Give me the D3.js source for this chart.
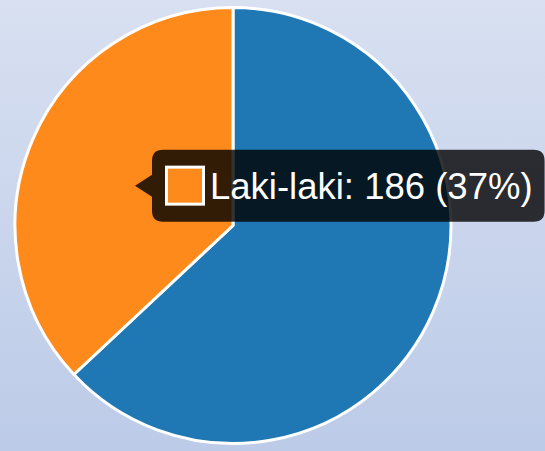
<!DOCTYPE html>
<html>
<head>
<meta charset="utf-8">
<script src="https://cdn.jsdelivr.net/npm/d3@7"></script>
<style>
  html, body { margin: 0; padding: 0; }
  body { width: 545px; height: 451px; overflow: hidden; }
</style>
</head>
<body>
<svg id="chart" width="545" height="451"></svg>
<script>
const labels = ['Perempuan', 'Laki-laki'];
const values = [317, 186];
const colors = ['#1f77b4', '#ff8a1c'];
const activeIndex = 1;

const svg = d3.select('#chart');
const width = +svg.attr('width');
const height = +svg.attr('height');

// background gradient
const defs = svg.append('defs');
const grad = defs.append('linearGradient')
  .attr('id', 'bg')
  .attr('x1', 0).attr('y1', 0).attr('x2', 0).attr('y2', 1);
grad.append('stop').attr('offset', '0%').attr('stop-color', '#d8e0f1');
grad.append('stop').attr('offset', '100%').attr('stop-color', '#bccbe8');
svg.append('rect').attr('width', width).attr('height', height).attr('fill', 'url(#bg)');

const cx = 233, cy = 225.5, radius = 218;

const pie = d3.pie().sort(null).value((d) => d);
const arcs = pie(values);
const arc = d3.arc().innerRadius(0).outerRadius(radius);

const g = svg.append('g').attr('transform', `translate(${cx},${cy})`);

g.selectAll('path.slice')
  .data(arcs)
  .enter()
  .append('path')
  .classed('slice', true)
  .attr('d', arc)
  .attr('fill', (d, i) => colors[i])
  .attr('stroke', '#fff')
  .attr('stroke-width', 3)
  .attr('stroke-linejoin', 'round');

// tooltip near centroid of active slice
const total = d3.sum(values);
const [tx, ty] = arc.centroid(arcs[activeIndex]);
const tipX = cx + tx + 2, tipY = cy + ty + 3.5;
const pct = Math.round(values[activeIndex] / total * 100);
const text = `${labels[activeIndex]}: ${values[activeIndex]} (${pct}%)`;

const tip = svg.append('g');
const tipBg = tip.append('path').attr('fill', 'rgba(0,0,0,0.8)');
const label = tip.append('text')
  .attr('fill', '#fff')
  .attr('font-family', 'Liberation Sans, Arial, Helvetica, sans-serif')
  .attr('font-size', 36.5)
  .text(text);

const caret = 17, padL = 13, padR = 12, boxSize = 40, gap = 5, boxH = 72, rr = 11;
const bx = tipX + caret;
const textW = label.node().getComputedTextLength();
const bw = padL + boxSize + gap + textW + padR;
const by = tipY - boxH / 2;

const p = d3.path();
p.moveTo(bx + rr, by);
p.lineTo(bx + bw - rr, by);
p.quadraticCurveTo(bx + bw, by, bx + bw, by + rr);
p.lineTo(bx + bw, by + boxH - rr);
p.quadraticCurveTo(bx + bw, by + boxH, bx + bw - rr, by + boxH);
p.lineTo(bx + rr, by + boxH);
p.quadraticCurveTo(bx, by + boxH, bx, by + boxH - rr);
p.lineTo(bx, tipY + 11);
p.lineTo(tipX, tipY);
p.lineTo(bx, tipY - 11);
p.lineTo(bx, by + rr);
p.quadraticCurveTo(bx, by, bx + rr, by);
p.closePath();
tipBg.attr('d', p.toString());

tip.append('rect')
  .attr('x', bx + padL + 1.5)
  .attr('y', tipY - boxSize / 2 + 1.5)
  .attr('width', boxSize - 3)
  .attr('height', boxSize - 3)
  .attr('fill', colors[activeIndex])
  .attr('stroke', '#fff')
  .attr('stroke-width', 3);

label.attr('x', bx + padL + boxSize + gap).attr('y', tipY + 13);
</script>
</body>
</html>
